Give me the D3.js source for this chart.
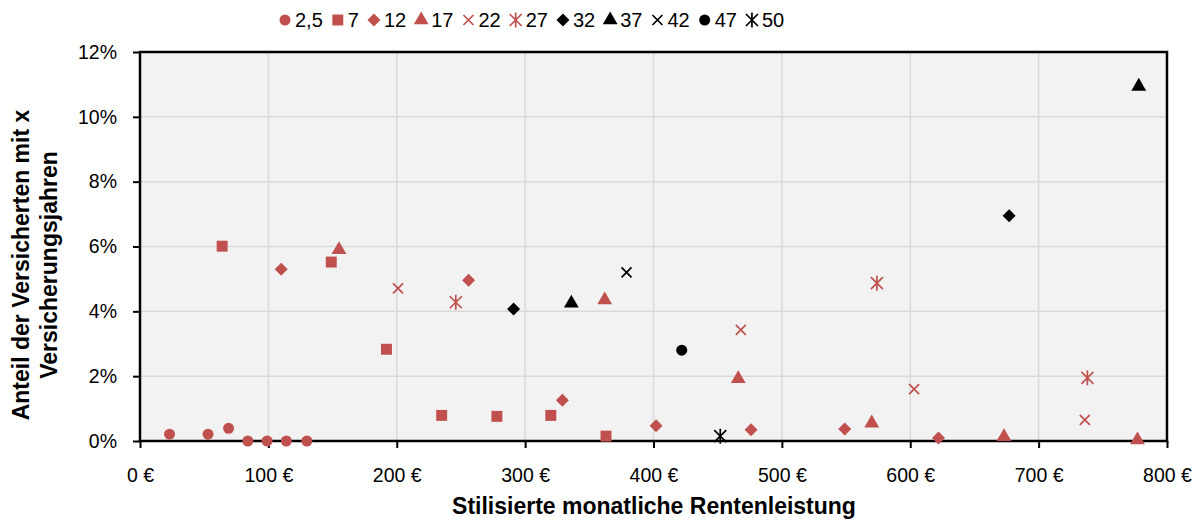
<!DOCTYPE html>
<html>
<head>
<meta charset="utf-8">
<script src="https://cdn.jsdelivr.net/npm/d3@7"></script>
<style>
  body { margin: 0; background: #fff; }
  svg text { font-family: "Liberation Sans", Arial, sans-serif; }
</style>
</head>
<body>
<div id="chart"></div>
<script>
// series names (Versicherungsjahre) and their points: [Rente in €, Anteil in %]
var seriesNames = ["2,5", "7", "12", "17", "22", "27", "32", "37", "42", "47", "50"];
var s2_5 = [[23, 0.21], [53, 0.21], [69, 0.39], [84, 0.0], [99, 0.0], [114, 0.0], [130, 0.0]];
var s7 = [[64, 6.01], [149, 5.52], [192, 2.83], [235, 0.79], [278, 0.76], [320, 0.79], [363, 0.15]];
var s12 = [[110, 5.30], [256, 4.96], [329, 1.26], [402, 0.47], [476, 0.35], [549, 0.37], [622, 0.09]];
var s17 = [[155, 5.9], [362, 4.35], [466, 1.92], [570, 0.55], [673, 0.13], [777, 0.03]];
var s22 = [[201, 4.71], [468, 3.43], [603, 1.60], [736, 0.65]];
var s27 = [[246, 4.28], [574, 4.87], [738, 1.95]];
var s32 = [[291, 4.07], [677, 6.95]];
var s37 = [[336, 4.25], [778, 10.94]];
var s42 = [[379, 5.2]];
var s47 = [[422, 2.8]];
var s50 = [[452, 0.15]];
var seriesData = [s2_5, s7, s12, s17, s22, s27, s32, s37, s42, s47, s50];
var xTicks = [0, 100, 200, 300, 400, 500, 600, 700, 800];
var yTicks = [0, 2, 4, 6, 8, 10, 12];

var red = "#c0504d", black = "#000";
var shapes = ["circle", "square", "diamond", "triangle", "x", "star", "diamond", "triangle", "x", "circle", "star"];
var colors = [red, red, red, red, red, red, black, black, black, black, black];

var W = 1199, H = 522;
var m = {left: 140, right: 32, top: 52, bottom: 81};

var svg = d3.select("#chart").append("svg").attr("width", W).attr("height", H);

var x = d3.scaleLinear().domain([0, 800]).range([m.left, W - m.right]);
var y = d3.scaleLinear().domain([0, 12]).range([H - m.bottom, m.top]);

// plot background
svg.append("rect")
  .attr("x", x(0)).attr("y", y(12))
  .attr("width", x(800) - x(0)).attr("height", y(0) - y(12))
  .attr("fill", "#f2f2f2");

// grid
svg.append("g").selectAll("line").data(xTicks.slice(1, -1)).enter().append("line")
  .attr("x1", d => x(d)).attr("x2", d => x(d))
  .attr("y1", y(0)).attr("y2", y(12))
  .attr("stroke", "#d9d9d9").attr("stroke-width", 1.5);
svg.append("g").selectAll("line").data(yTicks.slice(1, -1)).enter().append("line")
  .attr("y1", d => y(d)).attr("y2", d => y(d))
  .attr("x1", x(0)).attr("x2", x(800))
  .attr("stroke", "#d9d9d9").attr("stroke-width", 1.5);

// axes
var xAxis = d3.axisBottom(x).tickValues(xTicks).tickSize(7).tickPadding(20)
  .tickFormat(d => d + " €");
var yAxis = d3.axisLeft(y).tickValues(yTicks).tickSize(7).tickPadding(16)
  .tickFormat(d => d + "%");

var gx = svg.append("g").attr("transform", "translate(0," + y(0) + ")").call(xAxis);
var gy = svg.append("g").attr("transform", "translate(" + x(0) + ",0)").call(yAxis);
[gx, gy].forEach(function(g) {
  g.select(".domain").remove();
  g.selectAll(".tick line").attr("stroke", "#000").attr("stroke-width", 2);
  g.selectAll(".tick text").attr("fill", "#000").style("font-size", "19.5px");
});

// frame
svg.append("rect")
  .attr("x", x(0)).attr("y", y(12))
  .attr("width", x(800) - x(0)).attr("height", y(0) - y(12))
  .attr("fill", "none").attr("stroke", "#000").attr("stroke-width", 2.5);

function markerPath(shape) {
  if (shape === "circle") return d3.symbol(d3.symbolCircle, 95)();
  if (shape === "square") return d3.symbol(d3.symbolSquare, 120)();
  if (shape === "triangle") return d3.symbol(d3.symbolTriangle, 95)();
  if (shape === "diamond") return "M0,-6.5L6.5,0L0,6.5L-6.5,0Z";
  var r = shape === "star" ? 6 : 5;
  var p = "M" + -r + "," + -r + "L" + r + "," + r + "M" + -r + "," + r + "L" + r + "," + -r;
  if (shape === "star") p += "M0," + (-r - 1.5) + "L0," + (r + 1.5);
  return p;
}

function drawMarker(g, shape, color) {
  var filled = shape !== "x" && shape !== "star";
  g.append("path").attr("d", markerPath(shape))
    .attr("fill", filled ? color : "none")
    .attr("stroke", filled ? "none" : color)
    .attr("stroke-width", 1.7);
}

// points
seriesData.forEach(function(data, i) {
  svg.append("g").selectAll("g").data(data).enter().append("g")
    .attr("transform", d => "translate(" + x(d[0]) + "," + y(d[1]) + ")")
    .each(function() { drawMarker(d3.select(this), shapes[i], colors[i]); });
});

// legend
var legend = svg.append("g").attr("transform", "translate(0,20)");
var lx = 285;
seriesNames.forEach(function(name, i) {
  var it = legend.append("g").attr("transform", "translate(" + lx + ",0)");
  drawMarker(it, shapes[i], colors[i]);
  var t = it.append("text").attr("x", 10).attr("dy", "0.36em")
    .style("font-size", "20px").text(name);
  lx += 10 + t.node().getComputedTextLength() + 15;
});

// axis titles
svg.append("text")
  .attr("x", 654).attr("y", 514)
  .attr("text-anchor", "middle")
  .style("font-size", "23px").style("font-weight", "bold")
  .text("Stilisierte monatliche Rentenleistung");

var yt = svg.append("text")
  .attr("transform", "translate(29,265) rotate(-90)")
  .attr("text-anchor", "middle")
  .style("font-size", "23px").style("font-weight", "bold");
yt.append("tspan").attr("x", 0).attr("y", 0).text("Anteil der Versicherten mit x");
yt.append("tspan").attr("x", 0).attr("y", 28).text("Versicherungsjahren");
</script>
</body>
</html>
